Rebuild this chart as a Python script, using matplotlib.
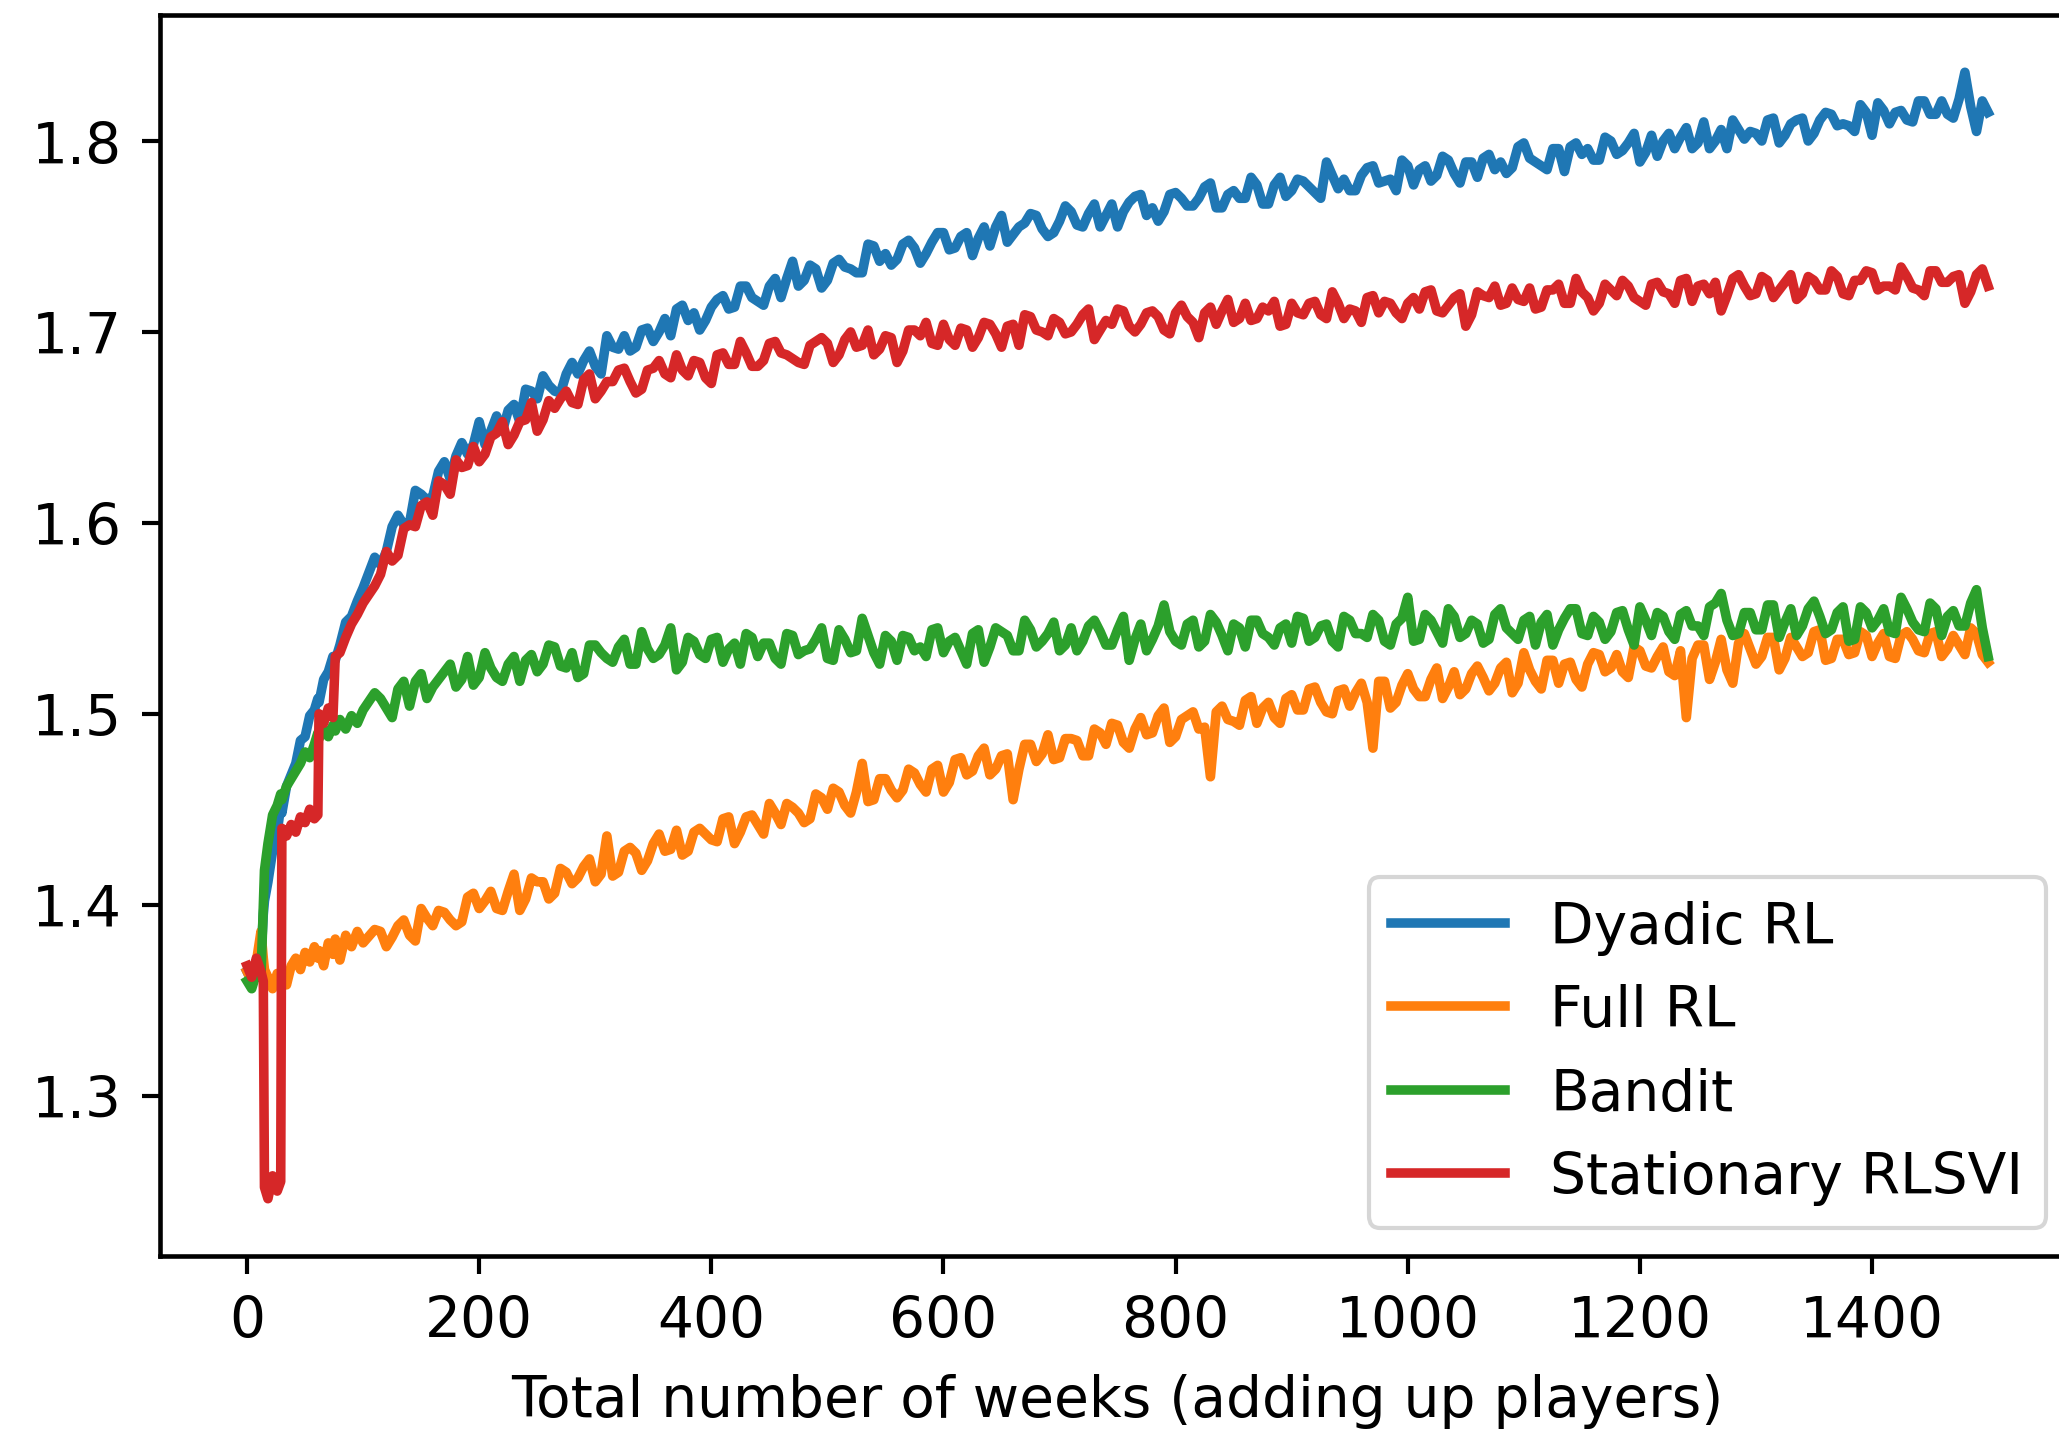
import matplotlib
matplotlib.use("Agg")
import matplotlib.pyplot as plt

# ---- data ----
weeks_early = [0, 4, 8, 12, 14, 15, 18, 22, 26, 29, 30, 34, 38, 42, 46, 50, 54, 58,
               61, 62, 66, 70, 74, 76, 80, 85, 90, 95, 100]
weeks_late = list(range(110, 1501, 10))   # 110, 120, ..., 1500
weeks_mid = list(range(115, 1500, 10))    # 115, 125, ..., 1495

dyadic_early = [1.365, 1.360, 1.368, 1.372, 1.395, 1.402, 1.412, 1.428, 1.438, 1.452,
                1.448, 1.462, 1.468, 1.474, 1.486, 1.488, 1.499, 1.502, 1.508, 1.506,
                1.518, 1.522, 1.530, 1.528, 1.536, 1.548, 1.551, 1.559, 1.566]
dyadic_late = [
    1.582, 1.585, 1.604, 1.600, 1.615, 1.614, 1.632, 1.635, 1.636, 1.653,
    1.648, 1.648, 1.662, 1.670, 1.665, 1.672, 1.668, 1.684, 1.685, 1.682,
    1.698, 1.691, 1.690, 1.701, 1.695, 1.707, 1.712, 1.706, 1.701, 1.713,
    1.719, 1.713, 1.724, 1.716, 1.724, 1.718, 1.737, 1.727, 1.733, 1.727,
    1.738, 1.733, 1.731, 1.745, 1.741, 1.738, 1.748, 1.736, 1.747, 1.752,
    1.744, 1.752, 1.749, 1.745, 1.761, 1.751, 1.757, 1.761, 1.750, 1.758,
    1.763, 1.755, 1.767, 1.761, 1.755, 1.768, 1.772, 1.765, 1.763, 1.773,
    1.766, 1.770, 1.778, 1.765, 1.774, 1.770, 1.777, 1.767, 1.781, 1.774,
    1.779, 1.773, 1.789, 1.775, 1.774, 1.782, 1.787, 1.779, 1.774, 1.787,
    1.785, 1.779, 1.792, 1.783, 1.789, 1.781, 1.793, 1.789, 1.786, 1.799,
    1.789, 1.785, 1.796, 1.797, 1.793, 1.790, 1.802, 1.793, 1.799, 1.789,
    1.803, 1.800, 1.796, 1.807, 1.799, 1.796, 1.806, 1.811, 1.801, 1.804,
    1.811, 1.799, 1.809, 1.812, 1.804, 1.815, 1.808, 1.808, 1.819, 1.803,
    1.816, 1.815, 1.811, 1.821, 1.814, 1.821, 1.812, 1.836, 1.805, 1.815]
dyadic_mid = [
    1.578, 1.598, 1.599, 1.617, 1.612, 1.627, 1.623, 1.642, 1.641, 1.641,
    1.656, 1.659, 1.653, 1.669, 1.677, 1.669, 1.678, 1.678, 1.690, 1.678,
    1.692, 1.698, 1.692, 1.702, 1.700, 1.698, 1.714, 1.710, 1.706, 1.717,
    1.712, 1.724, 1.718, 1.714, 1.728, 1.728, 1.724, 1.735, 1.723, 1.736,
    1.734, 1.731, 1.746, 1.737, 1.735, 1.746, 1.744, 1.741, 1.752, 1.743,
    1.750, 1.740, 1.755, 1.755, 1.747, 1.755, 1.762, 1.754, 1.752, 1.766,
    1.756, 1.762, 1.755, 1.767, 1.763, 1.771, 1.761, 1.758, 1.772, 1.770,
    1.766, 1.776, 1.765, 1.772, 1.770, 1.781, 1.767, 1.777, 1.771, 1.780,
    1.776, 1.770, 1.782, 1.780, 1.774, 1.786, 1.778, 1.780, 1.790, 1.777,
    1.787, 1.782, 1.790, 1.778, 1.789, 1.791, 1.785, 1.783, 1.797, 1.791,
    1.787, 1.796, 1.784, 1.799, 1.796, 1.790, 1.800, 1.795, 1.804, 1.794,
    1.792, 1.804, 1.802, 1.796, 1.810, 1.800, 1.796, 1.806, 1.805, 1.800,
    1.812, 1.803, 1.811, 1.800, 1.811, 1.814, 1.809, 1.805, 1.815, 1.820,
    1.809, 1.816, 1.810, 1.821, 1.814, 1.814, 1.822, 1.818, 1.821]

full_early = [1.365, 1.360, 1.370, 1.386, 1.372, 1.366, 1.362, 1.356, 1.364, 1.360,
              1.366, 1.358, 1.368, 1.372, 1.366, 1.375, 1.370, 1.378, 1.372, 1.376,
              1.368, 1.380, 1.374, 1.382, 1.371, 1.384, 1.378, 1.386, 1.380]
full_late = [
    1.387, 1.378, 1.389, 1.384, 1.398, 1.389, 1.396, 1.389, 1.404, 1.398,
    1.407, 1.397, 1.416, 1.403, 1.412, 1.403, 1.419, 1.411, 1.420, 1.412,
    1.436, 1.417, 1.430, 1.418, 1.432, 1.428, 1.439, 1.428, 1.440, 1.434,
    1.445, 1.432, 1.446, 1.442, 1.453, 1.442, 1.451, 1.443, 1.458, 1.450,
    1.459, 1.448, 1.474, 1.455, 1.466, 1.456, 1.471, 1.463, 1.471, 1.459,
    1.476, 1.468, 1.478, 1.468, 1.478, 1.455, 1.484, 1.475, 1.489, 1.477,
    1.487, 1.478, 1.492, 1.484, 1.494, 1.482, 1.498, 1.490, 1.503, 1.488,
    1.499, 1.492, 1.467, 1.504, 1.496, 1.507, 1.495, 1.506, 1.495, 1.510,
    1.502, 1.514, 1.501, 1.512, 1.504, 1.516, 1.482, 1.517, 1.506, 1.521,
    1.509, 1.518, 1.508, 1.522, 1.513, 1.525, 1.512, 1.524, 1.511, 1.532,
    1.517, 1.528, 1.516, 1.527, 1.514, 1.532, 1.522, 1.531, 1.519, 1.533,
    1.524, 1.535, 1.520, 1.498, 1.536, 1.518, 1.539, 1.516, 1.542, 1.526,
    1.540, 1.523, 1.540, 1.530, 1.543, 1.528, 1.539, 1.531, 1.543, 1.530,
    1.542, 1.529, 1.543, 1.533, 1.542, 1.530, 1.541, 1.531, 1.542, 1.527]
full_mid = [
    1.386, 1.383, 1.392, 1.381, 1.393, 1.397, 1.392, 1.391, 1.406, 1.402,
    1.398, 1.407, 1.397, 1.414, 1.412, 1.406, 1.417, 1.414, 1.424, 1.416,
    1.415, 1.428, 1.427, 1.423, 1.437, 1.429, 1.426, 1.438, 1.437, 1.433,
    1.446, 1.438, 1.447, 1.437, 1.448, 1.453, 1.448, 1.445, 1.456, 1.461,
    1.452, 1.459, 1.454, 1.466, 1.460, 1.460, 1.469, 1.459, 1.473, 1.464,
    1.477, 1.470, 1.482, 1.471, 1.479, 1.471, 1.484, 1.479, 1.476, 1.487,
    1.486, 1.478, 1.490, 1.495, 1.485, 1.492, 1.489, 1.499, 1.485, 1.497,
    1.501, 1.493, 1.501, 1.497, 1.494, 1.509, 1.503, 1.498, 1.508, 1.502,
    1.513, 1.506, 1.500, 1.513, 1.511, 1.506, 1.517, 1.503, 1.515, 1.513,
    1.509, 1.524, 1.514, 1.510, 1.521, 1.519, 1.516, 1.527, 1.516, 1.523,
    1.513, 1.528, 1.526, 1.518, 1.526, 1.531, 1.524, 1.522, 1.535, 1.525,
    1.530, 1.522, 1.533, 1.529, 1.536, 1.527, 1.523, 1.537, 1.534, 1.530,
    1.540, 1.529, 1.535, 1.532, 1.544, 1.529, 1.539, 1.532, 1.541, 1.537,
    1.530, 1.541, 1.539, 1.532, 1.543, 1.534, 1.536, 1.545, 1.531]

bandit_early = [1.360, 1.356, 1.364, 1.362, 1.400, 1.418, 1.432, 1.447, 1.452, 1.458,
                1.455, 1.462, 1.466, 1.470, 1.474, 1.480, 1.477, 1.484, 1.490, 1.487,
                1.492, 1.488, 1.494, 1.491, 1.497, 1.492, 1.499, 1.495, 1.502]
bandit_late = [
    1.511, 1.503, 1.513, 1.504, 1.521, 1.514, 1.522, 1.514, 1.530, 1.519,
    1.524, 1.517, 1.530, 1.528, 1.522, 1.536, 1.525, 1.532, 1.521, 1.536,
    1.529, 1.535, 1.526, 1.543, 1.529, 1.536, 1.523, 1.540, 1.531, 1.539,
    1.527, 1.537, 1.542, 1.530, 1.537, 1.526, 1.541, 1.533, 1.539, 1.529,
    1.544, 1.532, 1.550, 1.532, 1.541, 1.528, 1.540, 1.535, 1.544, 1.532,
    1.540, 1.526, 1.544, 1.535, 1.543, 1.533, 1.549, 1.535, 1.542, 1.533,
    1.545, 1.538, 1.549, 1.536, 1.544, 1.528, 1.547, 1.539, 1.557, 1.538,
    1.547, 1.535, 1.552, 1.541, 1.547, 1.535, 1.549, 1.540, 1.545, 1.537,
    1.550, 1.540, 1.547, 1.535, 1.549, 1.542, 1.552, 1.538, 1.547, 1.561,
    1.539, 1.549, 1.537, 1.551, 1.542, 1.547, 1.539, 1.555, 1.542, 1.549,
    1.536, 1.552, 1.544, 1.555, 1.542, 1.551, 1.539, 1.553, 1.544, 1.556,
    1.541, 1.551, 1.539, 1.554, 1.546, 1.556, 1.563, 1.541, 1.553, 1.544,
    1.557, 1.540, 1.555, 1.546, 1.559, 1.542, 1.553, 1.538, 1.556, 1.545,
    1.555, 1.542, 1.555, 1.544, 1.558, 1.541, 1.554, 1.546, 1.565, 1.530]
bandit_mid = [
    1.508, 1.498, 1.517, 1.517, 1.508, 1.518, 1.526, 1.518, 1.515, 1.532,
    1.519, 1.526, 1.517, 1.531, 1.526, 1.535, 1.524, 1.519, 1.536, 1.532,
    1.527, 1.539, 1.526, 1.534, 1.531, 1.545, 1.527, 1.538, 1.529, 1.540,
    1.534, 1.526, 1.540, 1.537, 1.529, 1.542, 1.531, 1.534, 1.545, 1.528,
    1.539, 1.533, 1.541, 1.526, 1.538, 1.541, 1.533, 1.530, 1.545, 1.538,
    1.533, 1.542, 1.527, 1.545, 1.541, 1.533, 1.544, 1.538, 1.548, 1.536,
    1.533, 1.546, 1.543, 1.536, 1.551, 1.539, 1.533, 1.546, 1.543, 1.536,
    1.549, 1.538, 1.548, 1.533, 1.545, 1.549, 1.542, 1.536, 1.547, 1.551,
    1.538, 1.546, 1.538, 1.551, 1.542, 1.540, 1.549, 1.536, 1.550, 1.538,
    1.552, 1.543, 1.555, 1.540, 1.549, 1.537, 1.552, 1.545, 1.539, 1.551,
    1.548, 1.536, 1.550, 1.555, 1.541, 1.548, 1.543, 1.554, 1.536, 1.549,
    1.553, 1.543, 1.552, 1.546, 1.541, 1.558, 1.549, 1.542, 1.553, 1.544,
    1.557, 1.548, 1.541, 1.555, 1.551, 1.544, 1.556, 1.539, 1.553, 1.549,
    1.543, 1.561, 1.548, 1.543, 1.555, 1.551, 1.546, 1.558, 1.545]

stationary_early = [1.368, 1.362, 1.372, 1.365, 1.360, 1.252, 1.246, 1.258, 1.250, 1.255,
                    1.440, 1.436, 1.442, 1.438, 1.446, 1.443, 1.450, 1.445, 1.447, 1.500,
                    1.495, 1.503, 1.498, 1.530, 1.532, 1.540, 1.547, 1.552, 1.558]
stationary_late = [
    1.567, 1.585, 1.583, 1.599, 1.609, 1.604, 1.620, 1.633, 1.630, 1.632,
    1.645, 1.653, 1.646, 1.654, 1.648, 1.664, 1.665, 1.663, 1.675, 1.665,
    1.674, 1.680, 1.674, 1.670, 1.681, 1.678, 1.688, 1.677, 1.684, 1.673,
    1.689, 1.683, 1.689, 1.682, 1.694, 1.689, 1.686, 1.683, 1.695, 1.694,
    1.688, 1.700, 1.693, 1.688, 1.698, 1.684, 1.701, 1.698, 1.694, 1.704,
    1.693, 1.701, 1.697, 1.704, 1.692, 1.704, 1.709, 1.701, 1.698, 1.705,
    1.700, 1.709, 1.696, 1.706, 1.712, 1.703, 1.704, 1.711, 1.701, 1.710,
    1.708, 1.697, 1.713, 1.711, 1.705, 1.715, 1.707, 1.711, 1.703, 1.715,
    1.709, 1.716, 1.707, 1.715, 1.712, 1.705, 1.719, 1.716, 1.710, 1.715,
    1.712, 1.722, 1.710, 1.718, 1.703, 1.721, 1.718, 1.714, 1.723, 1.716,
    1.712, 1.722, 1.725, 1.715, 1.721, 1.711, 1.725, 1.719, 1.724, 1.716,
    1.725, 1.721, 1.715, 1.728, 1.724, 1.720, 1.711, 1.728, 1.724, 1.720,
    1.727, 1.722, 1.730, 1.720, 1.727, 1.722, 1.729, 1.719, 1.727, 1.731,
    1.724, 1.722, 1.729, 1.722, 1.732, 1.726, 1.729, 1.715, 1.730, 1.724]
stationary_mid = [
    1.573, 1.580, 1.597, 1.598, 1.611, 1.622, 1.615, 1.629, 1.640, 1.636,
    1.647, 1.641, 1.653, 1.663, 1.654, 1.660, 1.669, 1.662, 1.678, 1.669,
    1.674, 1.681, 1.668, 1.680, 1.685, 1.676, 1.680, 1.685, 1.676, 1.688,
    1.683, 1.695, 1.682, 1.685, 1.695, 1.688, 1.684, 1.693, 1.697, 1.684,
    1.696, 1.692, 1.701, 1.691, 1.697, 1.690, 1.701, 1.705, 1.693, 1.696,
    1.702, 1.692, 1.705, 1.699, 1.703, 1.693, 1.708, 1.700, 1.707, 1.699,
    1.704, 1.712, 1.701, 1.704, 1.711, 1.700, 1.710, 1.708, 1.699, 1.714,
    1.705, 1.710, 1.704, 1.717, 1.707, 1.706, 1.713, 1.716, 1.704, 1.710,
    1.715, 1.709, 1.721, 1.707, 1.711, 1.718, 1.710, 1.715, 1.707, 1.718,
    1.721, 1.711, 1.714, 1.720, 1.709, 1.719, 1.724, 1.715, 1.717, 1.723,
    1.713, 1.722, 1.715, 1.728, 1.718, 1.715, 1.722, 1.727, 1.718, 1.714,
    1.726, 1.720, 1.727, 1.716, 1.725, 1.726, 1.719, 1.730, 1.719, 1.729,
    1.718, 1.726, 1.717, 1.729, 1.722, 1.732, 1.720, 1.727, 1.732, 1.722,
    1.724, 1.734, 1.723, 1.719, 1.732, 1.726, 1.730, 1.721, 1.733]

labels = ["Dyadic RL", "Full RL", "Bandit", "Stationary RLSVI"]
x_ticks = [0, 200, 400, 600, 800, 1000, 1200, 1400]
y_ticks = [1.3, 1.4, 1.5, 1.6, 1.7, 1.8]


def assemble(early, late, mid):
    pts = sorted(zip(weeks_early + weeks_late + weeks_mid, early + late + mid))
    return [p[0] for p in pts], [p[1] for p in pts]


# ---- figure ----
FS = 13.6
plt.rcParams['font.family'] = ['DejaVu Sans']
plt.rcParams['font.size'] = FS
plt.rcParams['xtick.major.size'] = 4.4
plt.rcParams['ytick.major.size'] = 4.4
plt.rcParams['xtick.major.width'] = 1.0
plt.rcParams['ytick.major.width'] = 1.0
plt.rcParams['xtick.major.pad'] = 4.8
plt.rcParams['ytick.major.pad'] = 4.8
plt.rcParams['axes.linewidth'] = 1.1

W, H = 2059, 1431
fig = plt.figure(figsize=(W / 300, H / 300), dpi=300)
ax = fig.add_axes([160 / W, 174 / H, (2074 - 160) / W, (1415 - 174) / H])

series = [assemble(dyadic_early, dyadic_late, dyadic_mid),
          assemble(full_early, full_late, full_mid),
          assemble(bandit_early, bandit_late, bandit_mid),
          assemble(stationary_early, stationary_late, stationary_mid)]
colors = ["#1f77b4", "#ff7f0e", "#2ca02c", "#d62728"]

for (xs, ys), lab, col in zip(series, labels, colors):
    ax.plot(xs, ys, color=col, lw=2.3, label=lab)

ax.set_xlim(-75, 1574)
ax.set_ylim(1.216, 1.866)
ax.set_xticks(x_ticks)
ax.set_yticks(y_ticks)
ax.set_xlabel("Total number of weeks (adding up players)", labelpad=5.8)
ax.legend(loc="lower right", fontsize=FS)

fig.savefig("out.png", dpi=300)
